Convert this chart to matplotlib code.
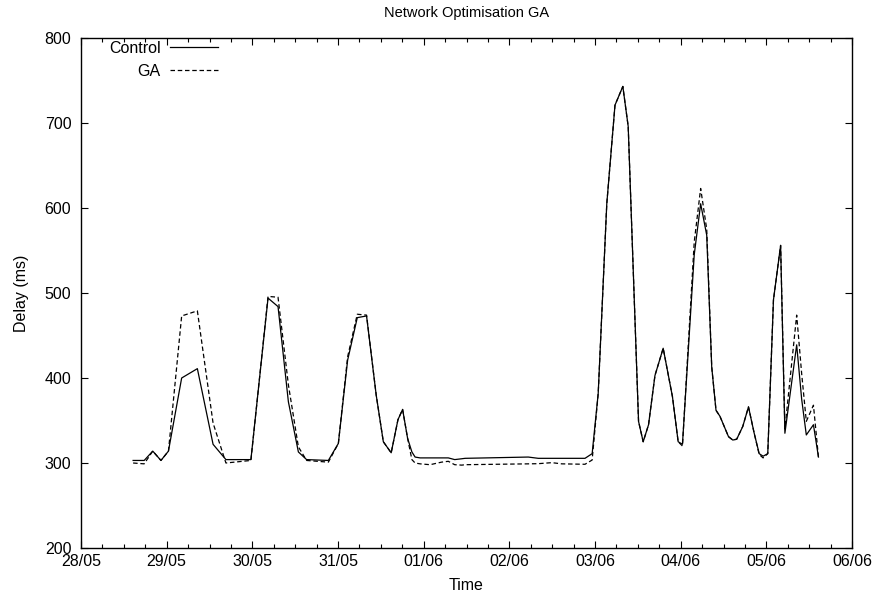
import matplotlib
matplotlib.use('Agg')
import matplotlib.pyplot as plt
import matplotlib.dates as mdates
from datetime import datetime, timedelta

plt.rcParams.update({'font.family': 'Liberation Sans', 'font.size': 11.5})

# hours since 28/05 00:00
hours = [14.6, 17.7, 20.1, 22.4, 24.5, 28.2, 32.6, 37.0, 40.6, 47.6,
         52.4, 55.2, 58.1, 60.9, 63.2, 69.3, 72.1, 74.7, 77.4, 80.0,
         82.7, 84.7, 86.9, 88.8, 90.1, 91.5, 92.7, 93.6, 95.0, 97.8,
         101.0, 102.9, 104.7, 106.7, 107.6, 125.3, 128.1, 131.9, 134.7, 141.2,
         143.2, 144.9, 147.3, 149.6, 151.8, 153.3, 156.2, 157.5, 159.0, 160.8,
         163.1, 165.7, 167.3, 168.5, 171.8, 173.6, 175.3, 176.7, 177.9, 179.0,
         181.4, 182.6, 183.7, 185.4, 187.0, 188.6, 190.0, 191.1, 192.4, 194.0,
         196.0, 197.2, 200.5, 201.9, 203.2, 205.2, 206.6]

control = [303, 303, 314, 303, 314, 400, 411, 322, 304, 304,
           494, 484, 372, 313, 304, 303, 323, 421, 471, 473,
           380, 325, 312, 351, 363, 329, 313, 307, 306, 306,
           306, 306, 304, 305, 305.5, 307, 305.5, 305.5, 305.5, 305.5,
           311, 382, 605, 721, 743, 696, 349, 325, 345, 403,
           435, 378, 325, 322, 545, 605, 568, 413, 362, 355,
           331, 327, 328, 343, 366, 335, 311, 308, 311, 492,
           556, 335, 439, 375, 333, 345, 307]

ga = [300, 299, 314, 303, 314, 473, 479, 347, 300, 303,
      496, 495, 392, 319, 303, 301, 323, 425, 475, 474,
      380, 325, 312, 351, 363, 329, 304, 300, 299, 298,
      301, 302, 298, 297.5, 298, 299, 299.2, 300.4, 299, 298.5,
      303.5, 382, 605, 721, 743, 696, 349, 325, 345, 403,
      435, 378, 325, 320, 560, 623, 575, 413, 362, 355,
      331, 327, 328, 343, 366, 335, 310, 306, 311, 492,
      556, 340, 474, 405, 349, 368, 307]

start = datetime(2007, 5, 28)
times = [start + timedelta(hours=h) for h in hours]

fig = plt.figure(figsize=(8.73, 6.05), dpi=100)
ax = fig.add_axes([81 / 873, 57 / 605, 771 / 873, 510 / 605])

ax.plot(times, control, color='black', lw=0.9, label='Control')
ax.plot(times, ga, color='black', lw=0.9, linestyle=(0, (3.6, 2.2)), label='GA')

ax.set_xlim(start, start + timedelta(days=9))
ax.set_ylim(200, 800)
ax.xaxis.set_major_locator(mdates.DayLocator())
ax.xaxis.set_minor_locator(mdates.HourLocator(byhour=[6, 12, 18]))
ax.xaxis.set_major_formatter(mdates.DateFormatter('%d/%m'))
ax.set_yticks(range(200, 801, 100))

ax.tick_params(which='both', direction='in', top=True, right=True, width=0.8)
ax.tick_params(which='major', length=5)
ax.tick_params(which='minor', length=3)
ax.tick_params(axis='x', pad=4)
ax.tick_params(axis='y', pad=7)
for s in ax.spines.values():
    s.set_linewidth(1.0)

ax.set_title('Network Optimisation GA', fontsize=10.5, pad=15)
ax.set_xlabel('Time', labelpad=7)
ax.set_ylabel('Delay (ms)', labelpad=11)

ax.legend(loc='upper left', bbox_to_anchor=(0.036, 0.995), frameon=False,
          markerfirst=False, handlelength=3.0, handletextpad=0.6,
          labelspacing=0.52, borderpad=0, borderaxespad=0, fontsize=11.5)

fig.savefig('out.png', dpi=100)
